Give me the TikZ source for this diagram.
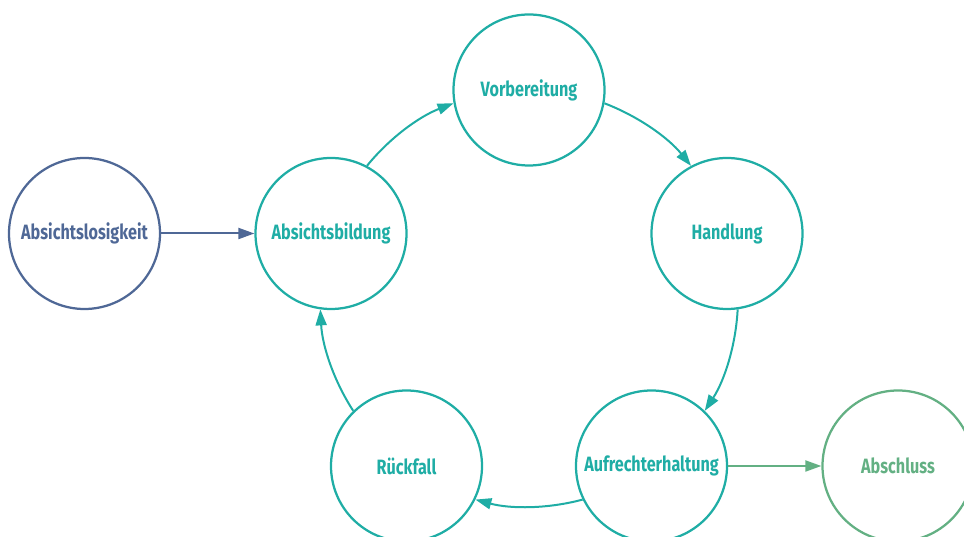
\documentclass[tikz,border=0pt]{standalone}
\usepackage{fontspec}
\newfontfamily\stagefont[FakeStretch=0.78]{Fira Sans}
\usetikzlibrary{arrows.meta}

\definecolor{stageblue}{RGB}{79,104,150}
\definecolor{stageteal}{RGB}{31,173,165}
\definecolor{stagegreen}{RGB}{99,176,131}

\begin{document}
\begin{tikzpicture} [scale=1.00]
  % page is as large as the figure
  \useasboundingbox (0,0) rectangle (19.28,10.74);
  % circle for every stage, arrows a little thicker
  \tikzstyle{stage}=[circle,draw,line width=0.45mm,minimum size=3.02cm,inner sep=0pt,
    font=\fontsize{11.8}{14}\selectfont\stagefont\bfseries]
  \tikzstyle{flow}=[line width=0.40mm,looseness=0.87,-{Triangle[length=3.2mm,width=2.2mm]}]

  % Draw the stages
  \node [stage,stageblue]  (losig) at ( 1.69, 6.07) {Absichtslosigkeit};
  \node [stage,stageteal]  (bild)  at ( 6.62, 6.07) {Absichtsbildung};
  \node [stage,stageteal]  (vor)   at (10.58, 8.94) {Vorbereitung};
  \node [stage,stageteal]  (hand)  at (14.54, 6.07) {Handlung};
  \node [stage,stageteal]  (aufr)  at (13.03, 1.42) {Aufrechterhaltung};
  \node [stage,stageteal]  (rueck) at ( 8.13, 1.42) {Rückfall};
  \node [stage,stagegreen] (absch) at (17.96, 1.42) {Abschluss};

  % way in and way out
  \draw [flow,stageblue]  (losig) -- (bild);
  \draw [flow,stagegreen] (aufr)  -- (absch);

  % the cycle (arcs on one big circle)
  \draw [flow,stageteal] (bild.62)   to[out=51,in=201]  (vor.190);
  \draw [flow,stageteal] (vor.350)   to[out=-21,in=129] (hand.118);
  \draw [flow,stageteal] (hand.278)  to[out=-93,in=57]  (aufr.46);
  \draw [flow,stageteal] (aufr.206)  to[out=195,in=345] (rueck.334);
  \draw [flow,stageteal] (rueck.134) to[out=123,in=273] (bild.262);

  \end{tikzpicture}
\end{document}
